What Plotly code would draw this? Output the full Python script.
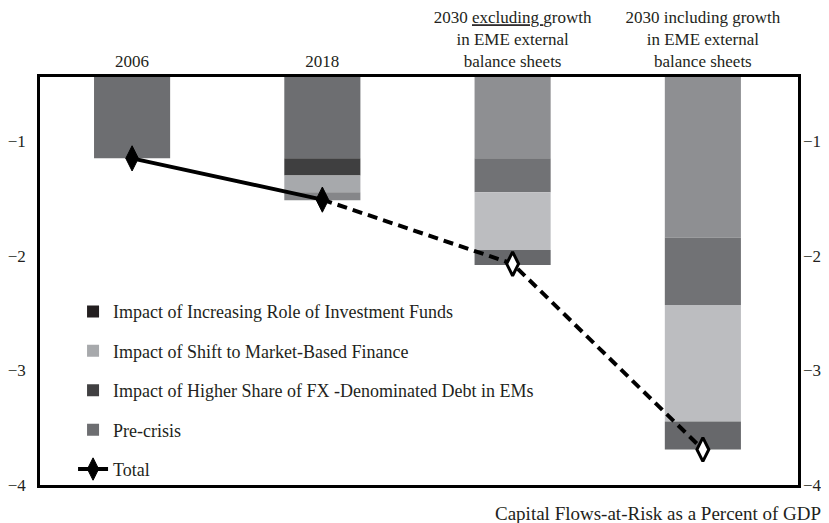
import plotly.graph_objects as go

# ---- data ----
categories = ["2006", "2018", "2030 excl.", "2030 incl."]
tick_labels = [
    "2006",
    "2018",
    "2030 <span style='text-decoration:underline'>excluding </span>growth<br>in EME external<br>balance sheets",
    "2030 including growth<br>in EME external<br>balance sheets",
]
pre_crisis = [-1.15, -1.15, -1.15, -1.84]
fx_debt = [0.0, -0.15, -0.295, -0.59]
market_based = [0.0, -0.145, -0.505, -1.015]
investment_funds = [0.0, -0.07, -0.13, -0.245]
total = [-1.15, -1.51, -2.07, -3.69]
y_ticks = [-1, -2, -3, -4]
y_tick_text = ["\u22121", "\u22122", "\u22123", "\u22124"]

# ---- styles ----
pre_colors = ["#6d6e71", "#6d6e71", "#8e8f92", "#8e8f92"]
fx_colors = ["#414042", "#3f3f40", "#717275", "#717275"]
mbf_colors = ["#a7a9ac", "#a7a9ac", "#bcbdc0", "#bcbdc0"]
if_colors = ["#231f20", "#858689", "#67686b", "#67686b"]

FONT = "Liberation Serif"
TXT = "#231f20"
xpos = list(range(len(categories)))

fig = go.Figure()

fig.add_bar(x=xpos, y=pre_crisis, name="Pre-crisis", marker=dict(color=pre_colors, line=dict(width=0)),
            width=0.4, legendrank=4, legendgroup="g4")
fig.add_bar(x=xpos, y=fx_debt, name="Impact of Higher Share of FX -Denominated Debt in EMs",
            marker=dict(color=fx_colors, line=dict(width=0)), width=0.4, legendrank=3, legendgroup="g3")
fig.add_bar(x=xpos, y=market_based, name="Impact of Shift to Market-Based Finance",
            marker=dict(color=mbf_colors, line=dict(width=0)), width=0.4, legendrank=2, legendgroup="g2")
fig.add_bar(x=xpos, y=investment_funds, name="Impact of Increasing Role of Investment Funds",
            marker=dict(color=if_colors, line=dict(width=0)), width=0.4, legendrank=1, legendgroup="g1")

# dashed projection part of the total line
fig.add_scatter(x=xpos[1:], y=total[1:], mode="lines", line=dict(color="black", width=4, dash="10px,6px"),
                showlegend=False, hoverinfo="skip")
# open markers for projections
fig.add_scatter(x=xpos[2:], y=total[2:], mode="markers",
                marker=dict(symbol="diamond-tall", size=17, color="white", line=dict(color="black", width=3)),
                showlegend=False)
# solid historical part with filled markers
fig.add_scatter(x=xpos[:2], y=total[:2], mode="lines+markers", name="Total",
                line=dict(color="black", width=4),
                marker=dict(symbol="diamond-tall", size=18, color="black", line=dict(color="black", width=1)),
                legendrank=5, legendgroup="g5")

# invisible trace to drive right axis
fig.add_scatter(x=[xpos[0]], y=[total[0]], yaxis="y2", mode="markers", marker=dict(opacity=0),
                showlegend=False, hoverinfo="skip")

yrange = [-4, -0.44]
fig.update_layout(
    width=821, height=515,
    margin=dict(l=32, r=31, t=69, b=38),
    paper_bgcolor="white", plot_bgcolor="white",
    barmode="relative", bargap=0.6,
    font=dict(family=FONT, size=18, color=TXT),
    xaxis=dict(side="top", tickvals=xpos, ticktext=tick_labels, range=[-0.484, 3.5], automargin=False,
               showline=True, mirror=True, linecolor="black", linewidth=2.5,
               showgrid=False, zeroline=False, ticks="", ticklabelstandoff=0,
               tickfont=dict(family=FONT, size=17, color=TXT)),
    yaxis=dict(range=yrange, tickvals=y_ticks, ticktext=y_tick_text, showgrid=False, zeroline=False,
               showline=True, mirror=True, linecolor="black", linewidth=2.5, ticks="", automargin=False,
               ticklabelstandoff=8, tickfont=dict(family=FONT, size=17, color=TXT)),
    yaxis2=dict(range=yrange, tickvals=y_ticks, ticktext=y_tick_text, overlaying="y", side="right",
                showgrid=False, zeroline=False, showline=False, ticks="", ticklabelstandoff=4,
                automargin=False, tickfont=dict(family=FONT, size=17, color=TXT)),
    legend=dict(x=0.0436, y=0.47, xanchor="left", yanchor="top", traceorder="grouped",
                tracegroupgap=13, bgcolor="rgba(0,0,0,0)", font=dict(family=FONT, size=18, color=TXT)),
    showlegend=True,
    annotations=[dict(text="Capital Flows-at-Risk as a Percent of GDP", xref="paper", yref="paper",
                      x=1.033, y=-0.069, xanchor="right", yanchor="middle", showarrow=False,
                      font=dict(family=FONT, size=19, color=TXT))],
)

fig.write_html("out.html")
